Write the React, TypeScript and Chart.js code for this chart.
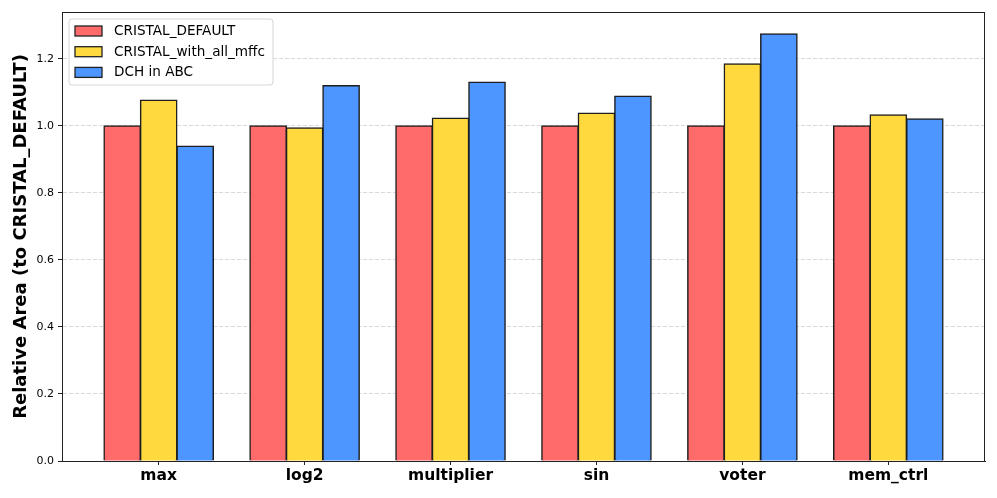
import React, { useEffect, useRef } from "react";
import { Chart, registerables } from "chart.js";

Chart.register(...registerables);

const categories = ["max", "log2", "multiplier", "sin", "voter", "mem_ctrl"];
const seriesNames = ["CRISTAL_DEFAULT", "CRISTAL_with_all_mffc", "DCH in ABC"];
const defaultValues = [1.0, 1.0, 1.0, 1.0, 1.0, 1.0];
const allMffcValues = [1.077, 0.994, 1.023, 1.038, 1.185, 1.033];
const dchValues = [0.94, 1.12, 1.131, 1.089, 1.275, 1.021];
const seriesColors = ["#FF6B6B", "#FFD93D", "#4D96FF"];
const yTicks = [0.0, 0.2, 0.4, 0.6, 0.8, 1.0, 1.2];

const FONT = "'DejaVu Sans', sans-serif";

const framePlugin = {
  id: "frame",
  afterDraw(chart: any) {
    const { ctx, chartArea } = chart;
    ctx.save();
    ctx.strokeStyle = "#222";
    ctx.lineWidth = 1;
    ctx.strokeRect(
      Math.round(chartArea.left) + 0.5,
      Math.round(chartArea.top) + 0.5,
      Math.round(chartArea.right - chartArea.left) - 1,
      Math.round(chartArea.bottom - chartArea.top)
    );
    ctx.restore();
  },
};

const legendPlugin = {
  id: "innerLegend",
  afterDraw(chart: any) {
    const { ctx, chartArea } = chart;
    const x0 = chartArea.left + 7;
    const y0 = chartArea.top + 7;
    const w = 204;
    const h = 66;
    const r = 3;
    ctx.save();
    ctx.beginPath();
    ctx.moveTo(x0 + r, y0);
    ctx.lineTo(x0 + w - r, y0);
    ctx.arcTo(x0 + w, y0, x0 + w, y0 + r, r);
    ctx.lineTo(x0 + w, y0 + h - r);
    ctx.arcTo(x0 + w, y0 + h, x0 + w - r, y0 + h, r);
    ctx.lineTo(x0 + r, y0 + h);
    ctx.arcTo(x0, y0 + h, x0, y0 + h - r, r);
    ctx.lineTo(x0, y0 + r);
    ctx.arcTo(x0, y0, x0 + r, y0, r);
    ctx.closePath();
    ctx.fillStyle = "rgba(255,255,255,0.85)";
    ctx.fill();
    ctx.strokeStyle = "#d6d6d6";
    ctx.lineWidth = 1;
    ctx.stroke();
    chart.data.datasets.forEach((ds: any, i: number) => {
      const cy = y0 + 12 + i * 20.7;
      ctx.fillStyle = ds.backgroundColor;
      ctx.fillRect(x0 + 6, cy - 5, 27, 10);
      ctx.strokeStyle = "#222";
      ctx.lineWidth = 1.3;
      ctx.strokeRect(x0 + 6, cy - 5, 27, 10);
      ctx.fillStyle = "#000";
      ctx.font = `13.6px ${FONT}`;
      ctx.textAlign = "left";
      ctx.textBaseline = "middle";
      ctx.fillText(ds.label, x0 + 45, cy + 0.5);
    });
    ctx.restore();
  },
};

export default function App() {
  const canvasRef = useRef<HTMLCanvasElement | null>(null);

  useEffect(() => {
    if (!canvasRef.current) return;
    const series = [defaultValues, allMffcValues, dchValues];
    const chart = new Chart(canvasRef.current, {
      type: "bar",
      data: {
        datasets: series.map((vals, si) => ({
          label: seriesNames[si],
          data: vals.map((y, i) => ({ x: i, y })),
          backgroundColor: seriesColors[si],
          borderColor: "#1e1e1e",
          borderWidth: 1.5,
          borderSkipped: "start",
          inflateAmount: 0.6,
          categoryPercentage: 0.75,
          barPercentage: 1.0,
        })),
      },
      options: {
        animation: false,
        responsive: false,
        layout: { padding: { top: 12, right: 12, left: 0, bottom: 0 } },
        plugins: {
          legend: { display: false },
          tooltip: { enabled: false },
        },
        scales: {
          x: {
            type: "linear",
            min: -0.6625,
            max: categories.length - 1 + 0.6625,
            offset: false,
            afterBuildTicks: (axis: any) => {
              axis.ticks = categories.map((_, i) => ({ value: i }));
            },
            afterFit: (axis: any) => {
              axis.height = 37;
            },
            ticks: {
              autoSkip: false,
              maxRotation: 0,
              padding: 2,
              color: "#000",
              font: { family: FONT, size: 15.5, weight: "bold" },
              callback: (_v: any, i: number) => categories[i],
            },
            grid: {
              display: true,
              offset: false,
              drawOnChartArea: false,
              drawTicks: true,
              tickLength: 4,
              tickColor: "#222",
              tickWidth: 1,
            },
            border: { display: true, color: "#222", width: 1 },
          },
          y: {
            type: "linear",
            min: 0,
            max: 1.34,
            z: 1,
            afterBuildTicks: (axis: any) => {
              axis.ticks = yTicks.map((v) => ({ value: v }));
            },
            afterFit: (axis: any) => {
              axis.width = 62;
            },
            ticks: {
              padding: 4,
              color: "#000",
              font: { family: FONT, size: 11 },
              callback: (v: any) => Number(v).toFixed(1),
            },
            grid: {
              display: true,
              drawOnChartArea: true,
              drawTicks: true,
              tickLength: 4,
              tickColor: "#222",
              tickWidth: 1,
              tickBorderDash: [],
              lineWidth: 0.8,
              color: (ctx: any) =>
                ctx.tick && ctx.tick.value === 0 ? "rgba(0,0,0,0)" : "rgba(160,160,160,0.5)",
            },
            border: { display: true, color: "#222", width: 1, dash: [4, 2] },
            title: {
              display: true,
              text: "Relative Area (to CRISTAL_DEFAULT)",
              color: "#000",
              font: { family: FONT, size: 18, weight: "bold", lineHeight: 1.2 },
              padding: { top: 11, bottom: 0 },
            },
          },
        },
      },
      plugins: [framePlugin, legendPlugin],
    } as any);
    return () => chart.destroy();
  }, []);

  return (
    <div style={{ position: "fixed", left: 0, top: 0, width: 997, height: 498, background: "#fff" }}>
      <canvas ref={canvasRef} width={997} height={498} style={{ width: 997, height: 498, display: "block" }} />
    </div>
  );
}
